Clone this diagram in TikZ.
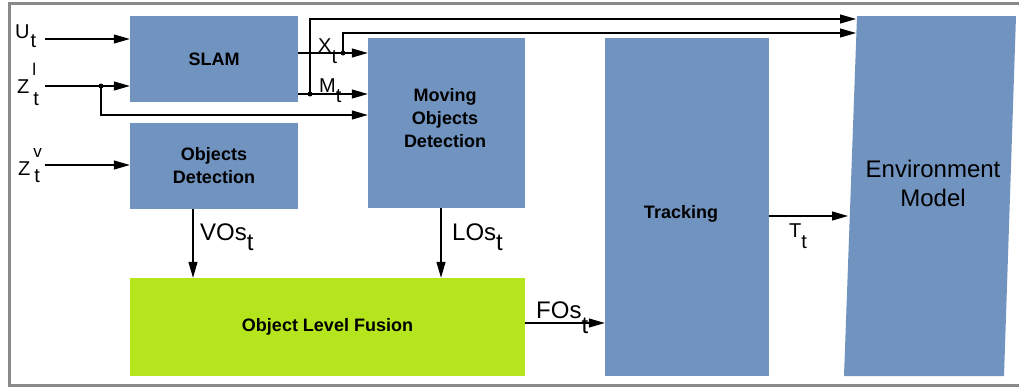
\documentclass[tikz,border=0pt]{standalone}
\usepackage{fontspec}
\setmainfont{Liberation Sans}
\usetikzlibrary{arrows.meta}
\definecolor{boxblue}{RGB}{112,147,192}
\definecolor{fusegreen}{RGB}{181,230,29}
\definecolor{framegray}{RGB}{138,138,138}
\newcommand\midfont{\fontsize{20}{22}\selectfont}
\newcommand\bigfont{\fontsize{24}{26}\selectfont}
\tikzset{
 blk/.style={fill=boxblue, draw=none, inner sep=0pt, font=\fontsize{18}{23}\selectfont\bfseries, align=center},
 arr/.style={line width=1.2pt, -{Triangle[length=16pt,width=9pt]}},
 jdot/.style={circle, fill=black, inner sep=0pt, minimum size=5pt},
 symlbl/.style={inner sep=0pt, anchor=base west},
}
\newcommand\lo[2]{\raisebox{-#1pt}{#2}}
\begin{document}
\begin{tikzpicture}[x=1pt,y=-1pt]
\useasboundingbox (0,0) rectangle (1019,388);
% frame
\draw[framegray, line width=3pt] (1019,3.5) -- (9,3.5) -- (9,385) -- (1019,385);
% boxes
\node[blk, minimum width=168pt, minimum height=86pt] (slam) at (214,59) {SLAM};
\node[blk, minimum width=168pt, minimum height=86pt] (objdet) at (214,166) {Objects\\Detection};
\node[blk, minimum width=157pt, minimum height=170pt] (mod) at (446.5,123) {};
\node[blk] (modtext) at (445,118) {Moving\\Objects\\Detection};
\node[blk, minimum width=164pt, minimum height=338pt] (track) at (687,207) {};
\node[blk] (tracktext) at (681,214) {Tracking};
\node[blk, fill=fusegreen, minimum width=395pt, minimum height=98pt] (fusion) at (327.5,327) {Object Level Fusion};
\coordinate (envA) at (857,16);
\coordinate (envB) at (1016,16);
\coordinate (envC) at (1004,376);
\coordinate (envD) at (844,376);
\fill[boxblue] (envA) -- (envB) -- (envC) -- (envD) -- cycle;
\node[inner sep=0pt, align=center, font=\fontsize{24}{29}\selectfont] (envtext) at (933,183) {Environment\\Model};
% input labels
\node[symlbl] (ulab) at (15,38) {\midfont U\lo{9}{\kern1pt t}};
\node[symlbl] (zllab) at (17,93) {\midfont Z\rlap{\raisebox{18pt}{\fontsize{17}{17}\selectfont\kern3pt l}}\lo{12}{\kern4pt t}};
\node[symlbl] (zvlab) at (18,175) {\midfont Z\rlap{\raisebox{18pt}{\fontsize{17}{17}\selectfont\kern3pt v}}\lo{7}{\kern4pt t}};
% inputs
\coordinate (uin) at (45,39);
\draw[arr] (uin) -- (uin -| slam.west);
\coordinate (zlin) at (45,86);
\draw[arr] (zlin) -- (zlin -| slam.west);
\node[jdot] (zldot) at (101,86) {};
\coordinate (zlturn) at (101,115);
\draw[arr] (zldot.center) -- (zlturn) -- (zlturn -| mod.west);
\coordinate (zvin) at (45,165);
\draw[arr] (zvin) -- (zvin -| objdet.west);
% X_t and M_t
\node[symlbl] (xlab) at (318,52) {\midfont X\lo{11}{t}};
\node[symlbl] (mlab) at (319,92) {\midfont M\lo{10}{t}};
\node[jdot] (xdot) at (343,53) {};
\draw[arr] (slam.east |- xdot) -- (mod.west |- xdot);
\coordinate (xup) at (343,33);
\coordinate (envx) at (856,33);
\draw[arr] (xdot.center) -- (xup) -- (envx);
\node[jdot] (mdot) at (310,94) {};
\draw[arr] (slam.east |- mdot) -- (mod.west |- mdot);
\coordinate (mup) at (310,19);
\coordinate (envm) at (856,19);
\draw[arr] (mdot.center) -- (mup) -- (envm);
% down arrows
\draw[arr] ([xshift=-21pt]objdet.south) -- ([xshift=-21pt]objdet.south |- fusion.north);
\draw[arr] ([xshift=-5.5pt]mod.south) -- ([xshift=-5.5pt]mod.south |- fusion.north);
\node[symlbl] (voslab) at (200,240) {\bigfont VOs\lo{10}{t}};
\node[symlbl] (loslab) at (452,240) {\bigfont LOs\lo{10}{t}};
% fusion -> tracking
\coordinate (fos) at (525,323);
\draw[arr] (fos) -- (fos -| track.west);
\node[symlbl] (foslab) at (536,318) {\bigfont FOs\lo{15}{t}};
% tracking -> env
\coordinate (tout) at (769,216);
\coordinate (tin) at (848,216);
\draw[arr] (tout) -- (tin);
\node[symlbl] (tlab) at (789,237) {\midfont T\lo{11}{t}};
\end{tikzpicture}
\end{document}
